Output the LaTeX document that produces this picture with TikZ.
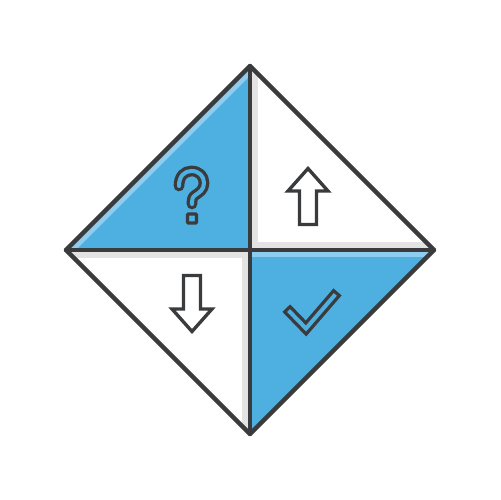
\documentclass[tikz,border=0pt]{standalone}
\usepackage{tikz}
\usetikzlibrary{calc}
\definecolor{quadBlue}{HTML}{4EAFE1}
\definecolor{quadLight}{HTML}{8FCDF0}
\definecolor{quadGrey}{HTML}{E3E3E3}
\definecolor{lineDark}{HTML}{3A3B3D}
\tikzstyle{edgeline} =[draw=lineDark, line width=2.5pt, line join=round, line cap=round]
\tikzstyle{iconline} =[draw=lineDark, line width=1.9pt, line join=miter, fill=white]
\tikzstyle{hollowblue} =[draw=lineDark, line width=1.9pt, double=quadBlue, double distance=2.3pt]
\tikzstyle{stripelight} =[draw=quadLight, line width=7.9pt]
\tikzstyle{stripegrey} =[draw=quadGrey, line width=9.6pt, line join=miter]

\begin{document}
\begin{tikzpicture}[x=0.02cm, y=-0.02cm]
\fill[white] (0,0) rectangle (500,500);
\useasboundingbox (0,0) rectangle (500,500);

\coordinate (topCorner) at (250,66);
\coordinate (bottomCorner) at (250,434);
\coordinate (leftCorner) at (66,250);
\coordinate (rightCorner) at (434,250);
\coordinate (mid) at (250,250);

% blue quarters
\fill[quadBlue] (topCorner) -- (leftCorner) -- (mid) -- cycle;
\fill[quadBlue] (mid) -- (rightCorner) -- (bottomCorner) -- cycle;

% shading strips
\begin{scope}
\clip (topCorner) -- (leftCorner) -- (mid) -- cycle;
\draw[stripelight] (topCorner) -- (leftCorner);
\end{scope}
\begin{scope}
\clip (topCorner) -- (mid) -- (rightCorner) -- cycle;
\draw[stripegrey] (topCorner) -- (mid) -- (rightCorner);
\end{scope}
\begin{scope}
\clip (leftCorner) -- (mid) -- (bottomCorner) -- cycle;
\draw[stripegrey] (leftCorner) -- (mid) -- (bottomCorner);
\end{scope}
\begin{scope}
\clip (mid) -- (rightCorner) -- (bottomCorner) -- cycle;
\draw[stripelight] (mid) -- (rightCorner);
\end{scope}

% outline and cross
\draw[edgeline] (topCorner) -- (rightCorner) -- (bottomCorner) -- (leftCorner) -- cycle;
\draw[edgeline] (topCorner) -- (bottomCorner) (leftCorner) -- (rightCorner);

% question mark
\draw[hollowblue, line cap=round, line join=round]
	(179,186) .. controls (179,176) and (184.5,171) .. (191.5,171)
	.. controls (199,171) and (204,176) .. (204,183)
	.. controls (204,190) and (199,192.5) .. (195.5,195)
	.. controls (192.5,197) and (192,199) .. (192,202) -- (192,204);
\draw[iconline, fill=quadBlue, rounded corners=0.6pt] (187.5,214) rectangle (196.5,223);

% up and down arrows
\draw[iconline] (308,168.5) -- (328,191) -- (316.5,191) -- (316.5,224.5)
	-- (299.5,224.5) -- (299.5,191) -- (288,191) -- cycle;
\draw[iconline, rotate around={180:(mid)}] (308,168.5) -- (328,191) -- (316.5,191) -- (316.5,224.5)
	-- (299.5,224.5) -- (299.5,191) -- (288,191) -- cycle;

% check mark
\draw[hollowblue, line cap=rect, line join=miter] (290,312) -- (306,328.5) -- (334,296);

\end{tikzpicture}
\end{document}
